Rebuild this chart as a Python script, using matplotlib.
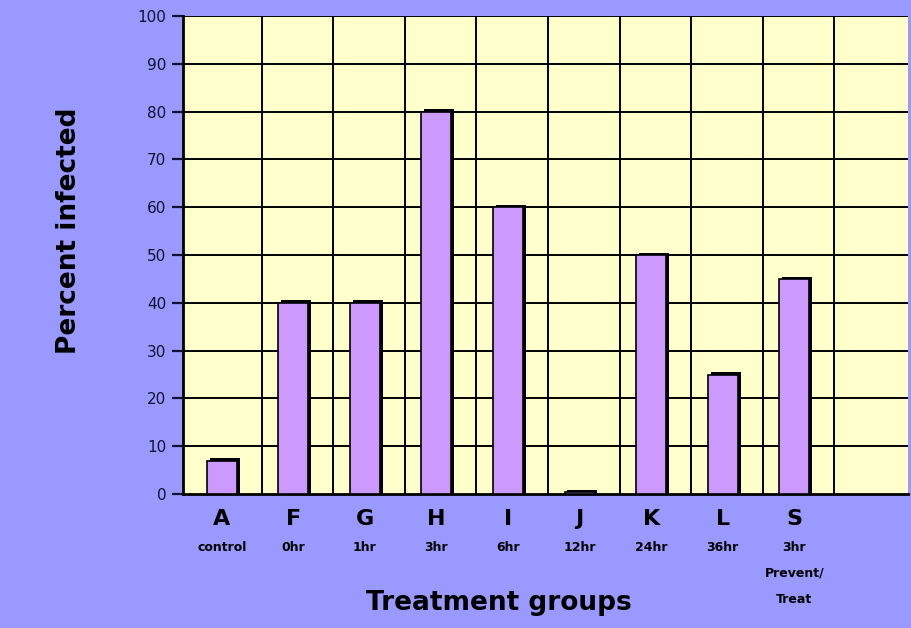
import numpy as np
import matplotlib.pyplot as plt

# data
groups = ['A', 'F', 'G', 'H', 'I', 'J', 'K', 'L', 'S']
timing = ['control', '0hr', '1hr', '3hr', '6hr', '12hr', '24hr', '36hr', '3hr\nPrevent/\nTreat']
infected = [7, 40, 40, 80, 60, 0.4, 50, 25, 45]

fig = plt.figure(figsize=(9.12, 6.28), dpi=100, facecolor='#9999ff')
ax = fig.add_axes([0.2007, 0.2134, 0.795, 0.761])
ax.set_facecolor('#ffffcc')

x = np.arange(len(groups)) - 0.06
w = 0.42

# grid
for yv in range(10, 101, 10):
    ax.axhline(yv, color='black', lw=1.4, zorder=1)
for xv in np.arange(0.5, 9.5, 1.0):
    ax.axvline(xv, color='black', lw=1.4, zorder=1)

# shadow + bars
ax.bar(x + 0.04, np.array(infected) + 0.5, width=w, color='black', zorder=2)
ax.bar(x, infected, width=w, color='#cc99ff', edgecolor='black', lw=1.2, zorder=3)

ax.set_xlim(-0.6, 9.53)
ax.set_ylim(0, 100)
ax.set_yticks(range(0, 101, 10))
ax.tick_params(axis='y', direction='out', length=8, width=1.6, labelsize=11, pad=4, colors='#111133')
ax.set_xticks(x)
ax.set_xticklabels(groups, fontsize=16, fontweight='bold')
ax.tick_params(axis='x', length=0, pad=11)

for xi, t in zip(x, timing):
    ax.text(xi, -9.8, t, ha='center', va='top', fontsize=9, fontweight='bold',
            linespacing=2.3)

for s in ['top', 'right']:
    ax.spines[s].set_visible(False)
ax.spines['left'].set_linewidth(2)
ax.spines['bottom'].set_linewidth(2)

ax.set_ylabel('Percent infected', fontsize=19, fontweight='bold')
ax.yaxis.set_label_coords(-0.14, 0.55)
ax.set_xlabel('Treatment groups', fontsize=19, fontweight='bold')
ax.xaxis.set_label_coords(0.435, -0.2)

fig.savefig('out.png', dpi=100, facecolor=fig.get_facecolor())
